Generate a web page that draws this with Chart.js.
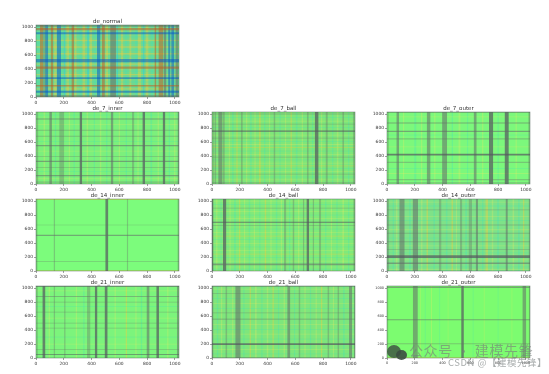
<!DOCTYPE html>
<html>
<head>
<meta charset="utf-8">
<style>
  body { margin: 0; background: #fff; width: 549px; height: 374px; overflow: hidden; position: relative; }
  canvas { position: absolute; filter: blur(0.45px); }
  .mark { position: absolute; white-space: nowrap; font-family: "Noto Sans CJK SC", sans-serif; }
  .dot { position: absolute; border-radius: 50%; background: rgba(60,75,65,0.8); filter: blur(0.5px); }
</style>
<script src="https://cdn.jsdelivr.net/npm/chart.js@4/dist/chart.umd.js"></script>
</head>
<body>
<div id="plots"></div>
<div class="dot" style="left:387px;top:345px;width:14px;height:13px"></div>
<div class="dot" style="left:396px;top:350px;width:11px;height:10px;background:rgba(60,75,65,0.9)"></div>
<div class="mark" style="left:409px;top:340px;font-size:14px;letter-spacing:0.6px;color:rgba(120,125,122,0.62)">公众号 · 建模先锋</div>
<div class="mark" style="left:448px;top:355px;font-size:9.5px;letter-spacing:0.5px;color:rgba(130,135,135,0.7)">CSDN @【建模先锋】</div>
<script>
// stripes are [position, width, level], position and width in sample units
const tickValues = [0, 200, 400, 600, 800, 1000];

const normalCols = [[15,20,1],[40,16,7],[60,14,3],[77,16,6],[115,14,7],[140,14,2],[165,22,6],[190,10,1],[205,10,8],[228,14,2],[265,14,7],[285,12,2],[320,12,1],[345,16,2],[375,10,8],[395,14,2],[425,12,1],[452,18,6],[485,16,7],[510,14,2],[555,30,4],[585,10,8],[620,14,2],[650,12,1],[680,12,2],[720,10,1],[745,16,2],[775,10,8],[800,16,2],[835,12,1],[860,10,7],[900,26,7],[930,14,4],[960,12,6],[985,16,6],[1015,16,4]];
const normalRows = [[15,14,4],[75,20,6],[115,12,2],[160,16,7],[215,14,1],[270,16,6],[320,14,2],[370,12,1],[420,22,7],[470,14,2],[520,34,6],[580,14,1],[620,16,2],[670,14,1],[715,16,2],[770,14,1],[810,14,2],[860,12,1],[912,18,6],[970,22,7],[1015,14,4]];

const de7InnerCols = [[10,10,3],[60,10,0],[105,14,4],[140,8,1],[185,26,3],[240,8,0],[275,8,1],[323,14,5],[370,10,0],[420,8,1],[465,10,0],[510,8,1],[548,14,4],[600,8,0],[650,8,1],[700,12,3],[735,8,0],[776,14,5],[830,10,1],[880,8,0],[922,14,5],[960,8,1],[1000,8,0],[1026,10,4]];
const de7InnerRows = [[28,12,3],[75,8,0],[119,12,4],[180,8,1],[238,8,3],[324,12,4],[396,8,3],[470,8,0],[548,12,4],[610,8,1],[682,10,3],[768,10,3],[850,8,0],[930,12,4],[985,8,1]];

const de7BallCols = [[8,8,3],[24,10,3],[60,22,4],[84,12,3],[125,8,0],[150,10,1],[180,8,2],[215,10,3],[250,8,0],[280,10,1],[310,8,0],[345,10,2],[380,8,1],[415,8,0],[450,10,3],[490,8,1],[530,8,0],[570,8,2],[610,10,1],[650,8,0],[690,10,3],[725,8,1],[754,20,5],[790,8,0],[826,12,3],[870,8,1],[905,10,0],[945,10,3],[985,8,1],[1022,10,3]];
const de7BallRows = [[20,8,3],[60,8,0],[100,8,1],[140,8,3],[180,8,0],[220,8,1],[260,8,2],[300,8,0],[345,8,1],[385,8,3],[425,8,0],[470,8,1],[520,8,2],[565,8,0],[610,8,1],[655,8,3],[700,8,0],[758,13,5],[810,8,1],[855,8,3],[900,8,0],[950,8,1],[1000,10,3]];

const de7OuterCols = [[8,8,3],[77,14,4],[120,8,0],[204,12,1],[250,8,0],[300,20,4],[345,8,0],[415,26,4],[470,8,1],[522,12,0],[580,8,1],[635,16,4],[690,8,0],[750,22,5],[800,8,1],[862,22,5],[930,8,0],[1024,10,3]];
const de7OuterRows = [[22,8,3],[62,12,3],[150,8,0],[225,8,1],[310,12,3],[420,16,5],[530,8,0],[644,13,3],[700,8,1],[754,13,4],[873,14,3],[960,8,0],[1024,10,3]];

const de14InnerCols = [[5,10,3],[132,8,3],[510,16,5],[659,8,3],[1025,10,3]];
const de14InnerRows = [[8,8,2],[133,7,3],[510,12,4],[658,7,3],[1024,10,2]];

const de14BallCols = [[4,10,5],[35,8,0],[65,8,1],[91,18,5],[130,8,0],[165,10,1],[200,8,2],[235,8,0],[270,10,1],[305,8,0],[345,8,1],[385,10,2],[425,8,0],[465,10,1],[500,8,0],[527,12,3],[560,8,1],[587,10,3],[625,8,0],[660,8,3],[690,14,5],[730,8,3],[778,12,3],[820,8,1],[860,8,0],[900,8,1],[945,10,0],[985,8,1],[1024,10,3]];
const de14BallRows = [[25,8,1],[95,18,4],[140,8,0],[190,8,1],[240,8,2],[295,8,0],[345,8,1],[395,8,0],[450,8,1],[500,8,2],[550,8,0],[600,8,1],[650,8,3],[696,10,5],[750,8,0],[800,8,1],[850,8,0],[900,8,3],[950,8,1],[1000,8,0]];

const de14OuterCols = [[8,10,3],[45,8,1],[70,10,0],[108,28,4],[165,10,1],[204,28,4],[250,10,0],[290,10,2],[340,10,1],[383,14,3],[430,10,1],[470,10,2],[500,8,0],[534,12,3],[570,10,1],[600,18,3],[647,12,4],[690,8,1],[718,14,2],[760,10,0],[800,10,1],[862,12,4],[910,10,0],[950,10,1],[985,8,2],[1025,8,3]];
const de14OuterRows = [[20,8,0],[60,8,1],[110,16,4],[160,8,0],[205,28,5],[260,8,1],[310,8,3],[360,8,0],[420,10,3],[470,8,1],[539,10,3],[590,8,0],[658,10,3],[720,8,1],[780,8,0],[873,8,3],[930,8,1],[985,8,0]];

const de21InnerCols = [[8,8,3],[57,16,5],[95,8,0],[132,8,3],[208,8,3],[290,8,0],[345,8,1],[380,18,3],[433,14,5],[505,16,5],[570,8,0],[650,8,2],[720,8,0],[760,8,1],[807,16,4],[876,14,5],[950,8,0],[1022,10,4]];
const de21InnerRows = [[52,8,5],[120,7,3],[200,8,0],[300,8,1],[427,8,3],[498,8,3],[570,8,0],[655,7,3],[740,8,1],[800,8,3],[878,8,4],[960,8,0],[1022,10,4]];

const de21BallCols = [[5,8,4],[40,8,1],[70,8,0],[103,10,3],[150,8,0],[187,28,4],[230,8,1],[275,8,2],[316,10,0],[360,8,1],[400,10,0],[440,8,2],[480,8,1],[520,8,0],[553,16,4],[595,8,1],[630,10,3],[670,8,0],[710,8,1],[750,8,0],[790,8,2],[838,10,3],[875,8,0],[910,10,3],[950,10,1],[998,16,4],[1028,6,4]];
const de21BallRows = [[8,8,3],[60,8,1],[120,8,0],[200,18,5],[270,8,1],[340,8,0],[410,8,1],[480,8,0],[556,10,4],[645,9,3],[710,8,1],[780,8,0],[850,8,1],[920,8,3],[985,8,0],[1024,10,3]];

const de21OuterCols = [[6,6,3],[204,26,4],[240,6,0],[275,6,1],[320,6,0],[380,6,1],[440,6,0],[544,14,5],[620,6,1],[700,6,0],[800,6,1],[900,6,0],[989,20,4],[1026,8,3]];
const de21OuterRows = [[5,8,2],[204,9,3],[546,11,4],[1010,12,4]];

const titles = ['de_normal', 'de_7_inner', 'de_7_ball', 'de_7_outer', 'de_14_inner', 'de_14_ball', 'de_14_outer', 'de_21_inner', 'de_21_ball', 'de_21_outer'];
const colStripes = [normalCols, de7InnerCols, de7BallCols, de7OuterCols, de14InnerCols, de14BallCols, de14OuterCols, de21InnerCols, de21BallCols, de21OuterCols];
const rowStripes = [normalRows, de7InnerRows, de7BallRows, de7OuterRows, de14InnerRows, de14BallRows, de14OuterRows, de21InnerRows, de21BallRows, de21OuterRows];

// layout and colours
const lefts = [36, 36, 212, 387, 36, 212, 387, 36, 212, 387];
const tops = [25, 112, 112, 112, 199, 199, 199, 286, 286, 286];
const baseColors = ['#72d88e', '#7cf07c', '#7ee67a', '#7cf87c', '#7cfc7c', '#80ea7a', '#7ee288', '#7cf47c', '#7ee67c', '#7cfc70'];
const levelColors = [
  'rgba(255,235,90,0.24)', 'rgba(60,225,190,0.28)', 'rgba(240,205,60,0.42)',
  'rgba(105,115,105,0.36)', 'rgba(100,105,105,0.55)', 'rgba(85,85,95,0.7)',
  'rgba(0,85,205,0.5)', 'rgba(195,85,30,0.5)', 'rgba(30,205,235,0.42)'
];
const widthScale = 1.4;
const plotW = 143, plotH = 72, pad = { l: 30, r: 30, t: 8, b: 10 }, maxVal = 1030;

function stripeSet(xs, ys, fillTo, color, order) {
  return {
    data: xs.map((x, i) => ({ x: x, y: ys[i] })),
    fill: { value: fillTo },
    backgroundColor: color,
    borderWidth: 0,
    pointRadius: 0,
    showLine: true,
    order: order
  };
}

function buildDatasets(i) {
  const sets = [stripeSet([0, maxVal], [maxVal, maxVal], 0, baseColors[i], 30)];
  colStripes[i].forEach(([pos, w, lev]) => {
    const a = pos - w * widthScale / 2, b = pos + w * widthScale / 2;
    sets.push(stripeSet([a, b], [maxVal, maxVal], 0, levelColors[lev], lev > 2 ? 10 : 20));
  });
  rowStripes[i].forEach(([pos, w, lev]) => {
    const a = pos - w * widthScale / 2, b = pos + w * widthScale / 2;
    sets.push(stripeSet([0, maxVal], [b, b], a, levelColors[lev], lev > 2 ? 5 : 15));
  });
  return sets;
}

const framePlugin = {
  id: 'frame',
  afterDatasetsDraw(chart) {
    const a = chart.chartArea, c = chart.ctx;
    c.save();
    c.strokeStyle = 'rgba(70,90,80,0.7)';
    c.lineWidth = 0.6;
    c.strokeRect(a.left, a.top, a.right - a.left, a.bottom - a.top);
    c.restore();
  }
};

titles.forEach((title, i) => {
  const canvas = document.createElement('canvas');
  canvas.style.left = (lefts[i] - pad.l) + 'px';
  canvas.style.top = (tops[i] - pad.t) + 'px';
  canvas.width = plotW + pad.l + pad.r;
  canvas.height = plotH + pad.t + pad.b;
  document.getElementById('plots').appendChild(canvas);
  const tickFont = { family: '"DejaVu Sans"', size: i === 9 ? 3.4 : 4.4 };
  const axis = (fit) => ({
    type: 'linear',
    min: 0,
    max: maxVal,
    afterBuildTicks: (s) => { s.ticks = tickValues.map(v => ({ value: v })); },
    afterFit: fit,
    grid: { drawOnChartArea: false, tickLength: 2, tickWidth: 0.5, tickColor: '#444' },
    border: { display: false },
    ticks: { font: tickFont, color: '#333', padding: 1, maxRotation: 0, autoSkip: false, includeBounds: false, callback: (v) => String(v) }
  });
  new Chart(canvas, {
    type: 'scatter',
    data: { datasets: buildDatasets(i) },
    options: {
      responsive: false,
      animation: false,
      layout: { padding: 0 },
      plugins: {
        legend: { display: false },
        tooltip: { enabled: false },
        title: {
          display: true,
          text: title,
          color: '#333',
          font: { family: '"DejaVu Sans"', size: 5.5, weight: 'normal', lineHeight: 1.2 },
          padding: { top: 1, bottom: 0.4 }
        }
      },
      scales: {
        x: axis((s) => { s.height = pad.b; s.paddingLeft = 0; s.paddingRight = 0; }),
        y: axis((s) => { s.width = pad.l; s.paddingTop = 0; s.paddingBottom = 0; }),
        // empty right axis keeps the title centred over the plot
        spacer: {
          type: 'linear',
          position: 'right',
          afterFit: (s) => { s.width = pad.r; s.paddingTop = 0; s.paddingBottom = 0; },
          ticks: { display: false },
          grid: { display: false },
          border: { display: false }
        }
      }
    },
    plugins: [framePlugin]
  });
});
</script>
</body>
</html>
